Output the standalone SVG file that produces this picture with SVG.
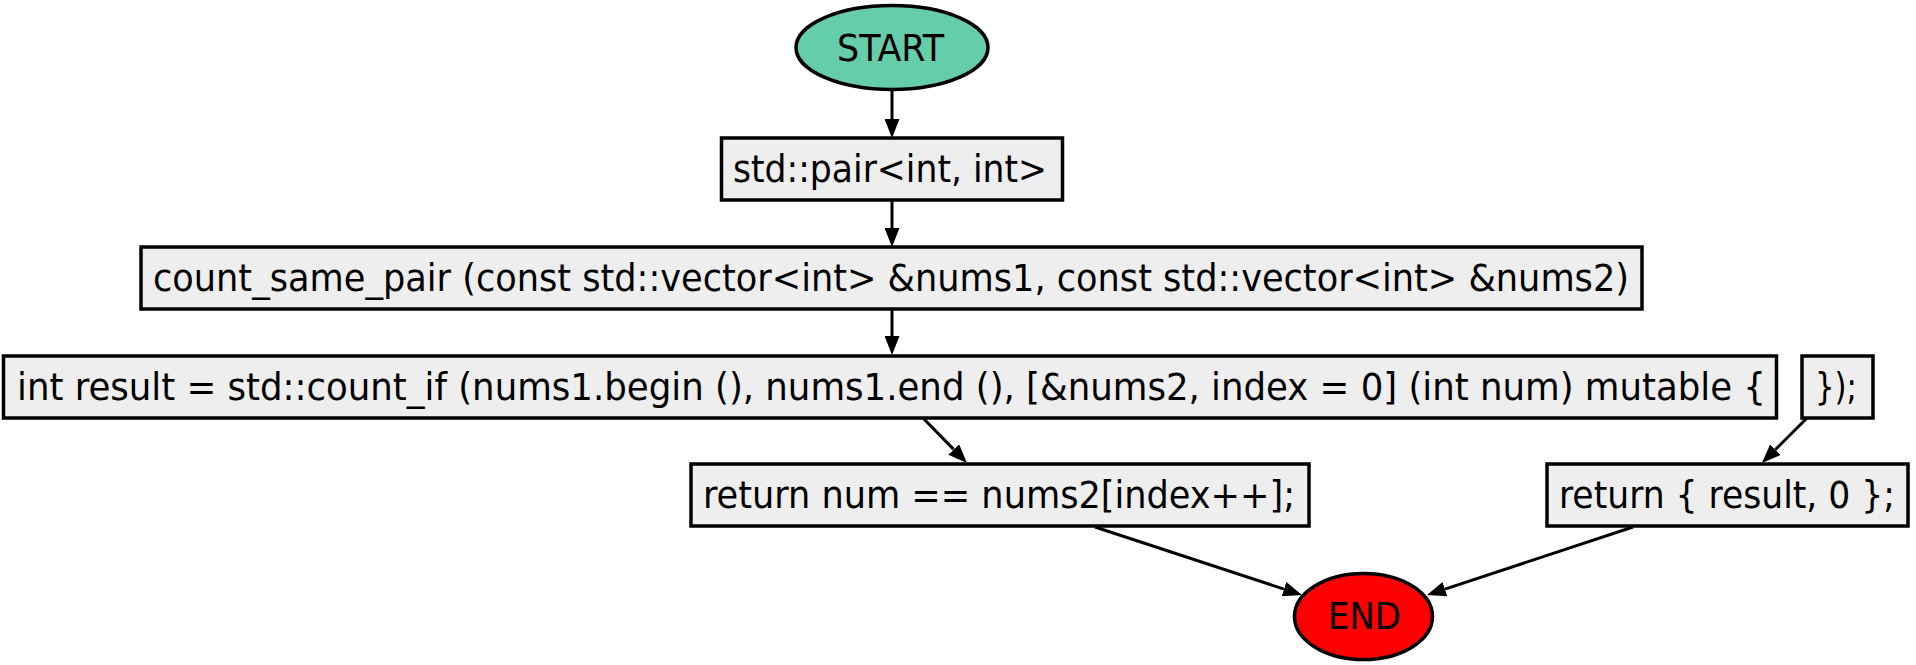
<svg xmlns="http://www.w3.org/2000/svg" width="1916" height="665" viewBox="0 0 1916 665">
<style>
.box{fill:#eeeeee;stroke:#000;stroke-width:3.5}
.t{font-family:"DejaVu Sans Condensed","DejaVu Sans","Liberation Sans",sans-serif;font-stretch:condensed;font-size:37px;fill:#000;text-anchor:middle}
.e{fill:none;stroke:#000;stroke-width:3}
</style>
<defs>
<marker id="ah" viewBox="0 0 19 15" refX="0" refY="7.5" markerWidth="19" markerHeight="15" markerUnits="userSpaceOnUse" orient="auto">
<path d="M0,0 L19,7.5 L0,15 z" fill="#000"/>
</marker>
</defs>
<rect width="1916" height="665" fill="#fff"/>
<g id="connectors">
<line class="e" x1="892" y1="90" x2="892" y2="119" marker-end="url(#ah)"/>
<line class="e" x1="892" y1="201" x2="892" y2="228" marker-end="url(#ah)"/>
<line class="e" x1="892" y1="309" x2="892" y2="336" marker-end="url(#ah)"/>
<line class="e" x1="923" y1="418" x2="953.7" y2="449.4" marker-end="url(#ah)"/>
<line class="e" x1="1807" y1="418" x2="1775.4" y2="449.6" marker-end="url(#ah)"/>
<line class="e" x1="1095" y1="527" x2="1284" y2="589.1" marker-end="url(#ah)"/>
<line class="e" x1="1633" y1="527" x2="1445" y2="589.1" marker-end="url(#ah)"/>
</g>
<g id="start">
<ellipse cx="892" cy="47.5" rx="96" ry="42" fill="#66cdaa" stroke="#000" stroke-width="3.5"/>
<text class="t" x="890.5" y="60.5" textLength="107" lengthAdjust="spacingAndGlyphs">START</text>
</g>
<g id="n1">
<rect class="box" x="721.5" y="138" width="341" height="62"/>
<text class="t" x="890" y="182" textLength="314" lengthAdjust="spacingAndGlyphs">std::pair&lt;int, int&gt;</text>
</g>
<g id="n2">
<rect class="box" x="141" y="247" width="1501" height="62"/>
<text class="t" x="891" y="291" textLength="1476" lengthAdjust="spacingAndGlyphs">count_same_pair (const std::vector&lt;int&gt; &amp;nums1, const std::vector&lt;int&gt; &amp;nums2)</text>
</g>
<g id="n3">
<rect class="box" x="3.5" y="356" width="1773" height="62"/>
<text class="t" x="891.5" y="400" textLength="1749" lengthAdjust="spacingAndGlyphs">int result = std::count_if (nums1.begin (), nums1.end (), [&amp;nums2, index = 0] (int num) mutable {</text>
</g>
<g id="n4">
<rect class="box" x="1802" y="356" width="71" height="62"/>
<text class="t" x="1836" y="400" textLength="42" lengthAdjust="spacingAndGlyphs">});</text>
</g>
<g id="n5">
<rect class="box" x="691" y="464" width="618" height="62"/>
<text class="t" x="999" y="508" textLength="592" lengthAdjust="spacingAndGlyphs">return num == nums2[index++];</text>
</g>
<g id="n6">
<rect class="box" x="1547" y="464" width="361" height="62"/>
<text class="t" x="1727" y="508" textLength="336" lengthAdjust="spacingAndGlyphs">return { result, 0 };</text>
</g>
<g id="end">
<ellipse cx="1363.5" cy="616.5" rx="69" ry="43" fill="#ff0000" stroke="#000" stroke-width="3.5"/>
<text class="t" x="1364.5" y="629" textLength="73" lengthAdjust="spacingAndGlyphs">END</text>
</g>
</svg>
